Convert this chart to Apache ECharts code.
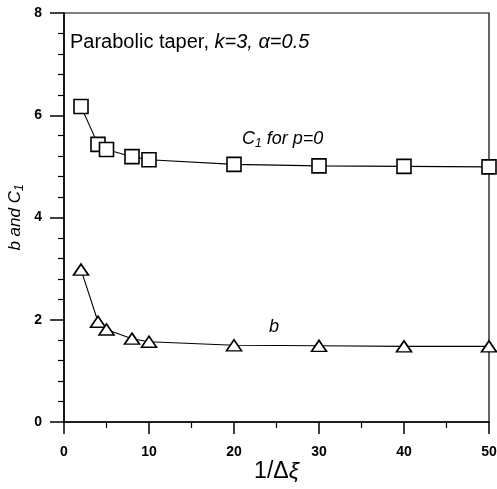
<!DOCTYPE html>
<html>
<head>
<meta charset="utf-8">
<script src="https://cdn.jsdelivr.net/npm/echarts@6/dist/echarts.min.js"></script>
<style>html,body{margin:0;padding:0;background:#fff}#c{width:497px;height:489px}</style>
</head>
<body>
<div id="c"></div>
<script>
const xValues = [2, 4, 5, 8, 10, 20, 30, 40, 50];
const c1Values = [6.17, 5.43, 5.33, 5.19, 5.13, 5.04, 5.01, 5.00, 4.99];
const bValues = [2.98, 1.96, 1.81, 1.63, 1.57, 1.50, 1.49, 1.48, 1.48];
const xTicks = [0, 10, 20, 30, 40, 50];
const yTicks = [0, 2, 4, 6, 8];

const chart = echarts.init(document.getElementById('c'), null, {renderer: 'canvas'});
const FONT = 'Liberation Sans, Arial, sans-serif';
const pair = (xs, ys) => xs.map((x, i) => [x, ys[i]]);

chart.setOption({
  animation: false,
  backgroundColor: '#fff',
  grid: {left: 64, right: 8, top: 13, bottom: 67, containLabel: false, outerBoundsMode: 'none',
    show: true, borderColor: '#000', borderWidth: 1.2, backgroundColor: 'transparent'},
  xAxis: {
    type: 'value', min: xTicks[0], max: xTicks[xTicks.length - 1], interval: 10,
    axisLine: {show: true, lineStyle: {color: '#000', width: 1.5}},
    axisTick: {show: true, length: 12, inside: false, lineStyle: {color: '#000', width: 1.5}},
    minorTick: {show: true, splitNumber: 2, length: 6, lineStyle: {color: '#000', width: 1.2}},
    splitLine: {show: false},
    axisLabel: {margin: 23, fontFamily: FONT, fontWeight: 'bold', fontSize: 14, color: '#000'},
    name: '{n|1/Δ}{i|ξ}', nameLocation: 'middle', nameGap: 38, nameMoveOverlap: false,
    nameTextStyle: {rich: {n: {fontFamily: FONT, fontSize: 23, color: '#000'}, i: {fontFamily: FONT, fontStyle: 'italic', fontSize: 23, color: '#000'}}}
  },
  yAxis: {
    type: 'value', min: yTicks[0], max: yTicks[yTicks.length - 1], interval: 2,
    axisLine: {show: true, lineStyle: {color: '#000', width: 1.5}},
    axisTick: {show: true, length: 14, inside: false, lineStyle: {color: '#000', width: 1.5}},
    minorTick: {show: true, splitNumber: 5, length: 6, lineStyle: {color: '#000', width: 1.2}},
    splitLine: {show: false},
    axisLabel: {margin: 22, fontFamily: FONT, fontWeight: 'bold', fontSize: 14, color: '#000'},
    name: '{i|b and C}{s|1}', nameLocation: 'middle', nameGap: 38, nameRotate: 90, nameMoveOverlap: false,
    nameTextStyle: {rich: {
      i: {fontFamily: FONT, fontStyle: 'italic', fontSize: 17, color: '#000', lineHeight: 22},
      s: {fontFamily: FONT, fontStyle: 'italic', fontSize: 12, color: '#000', verticalAlign: 'bottom', lineHeight: 22, padding: [7, 0, 0, 0]}
    }}
  },
  series: [
    {
      name: 'C1', type: 'line', data: pair(xValues, c1Values),
      symbol: 'rect', symbolSize: 14, showAllSymbol: true,
      lineStyle: {color: '#000', width: 1.1},
      itemStyle: {color: '#fff', borderColor: '#000', borderWidth: 1.6}
    },
    {
      name: 'b', type: 'line', data: pair(xValues, bValues),
      symbol: 'triangle', symbolSize: [15, 11], showAllSymbol: true,
      lineStyle: {color: '#000', width: 1.1},
      itemStyle: {color: '#fff', borderColor: '#000', borderWidth: 1.6}
    }
  ],
  graphic: [
    {type: 'text', left: 70, top: 32, style: {
      text: '{r|Parabolic taper, }{i|k=3, α=0.5}',
      rich: {r: {fontFamily: FONT, fontSize: 20, fill: '#000'}, i: {fontFamily: FONT, fontSize: 20, fontStyle: 'italic', fill: '#000'}}
    }},
    {type: 'text', left: 242, top: 130, style: {
      text: '{i|C}{s|1}{i| for p=0}',
      rich: {
        i: {fontFamily: FONT, fontSize: 18, fontStyle: 'italic', fill: '#000', lineHeight: 21},
        s: {fontFamily: FONT, fontSize: 12, fontStyle: 'italic', fill: '#000', verticalAlign: 'bottom', lineHeight: 21, padding: [7, 0, 0, 0]}
      }
    }},
    {type: 'text', left: 269, top: 318, style: {text: 'b', fontFamily: FONT, fontSize: 18, fontStyle: 'italic', fill: '#000'}}
  ]
});
</script>
</body>
</html>
